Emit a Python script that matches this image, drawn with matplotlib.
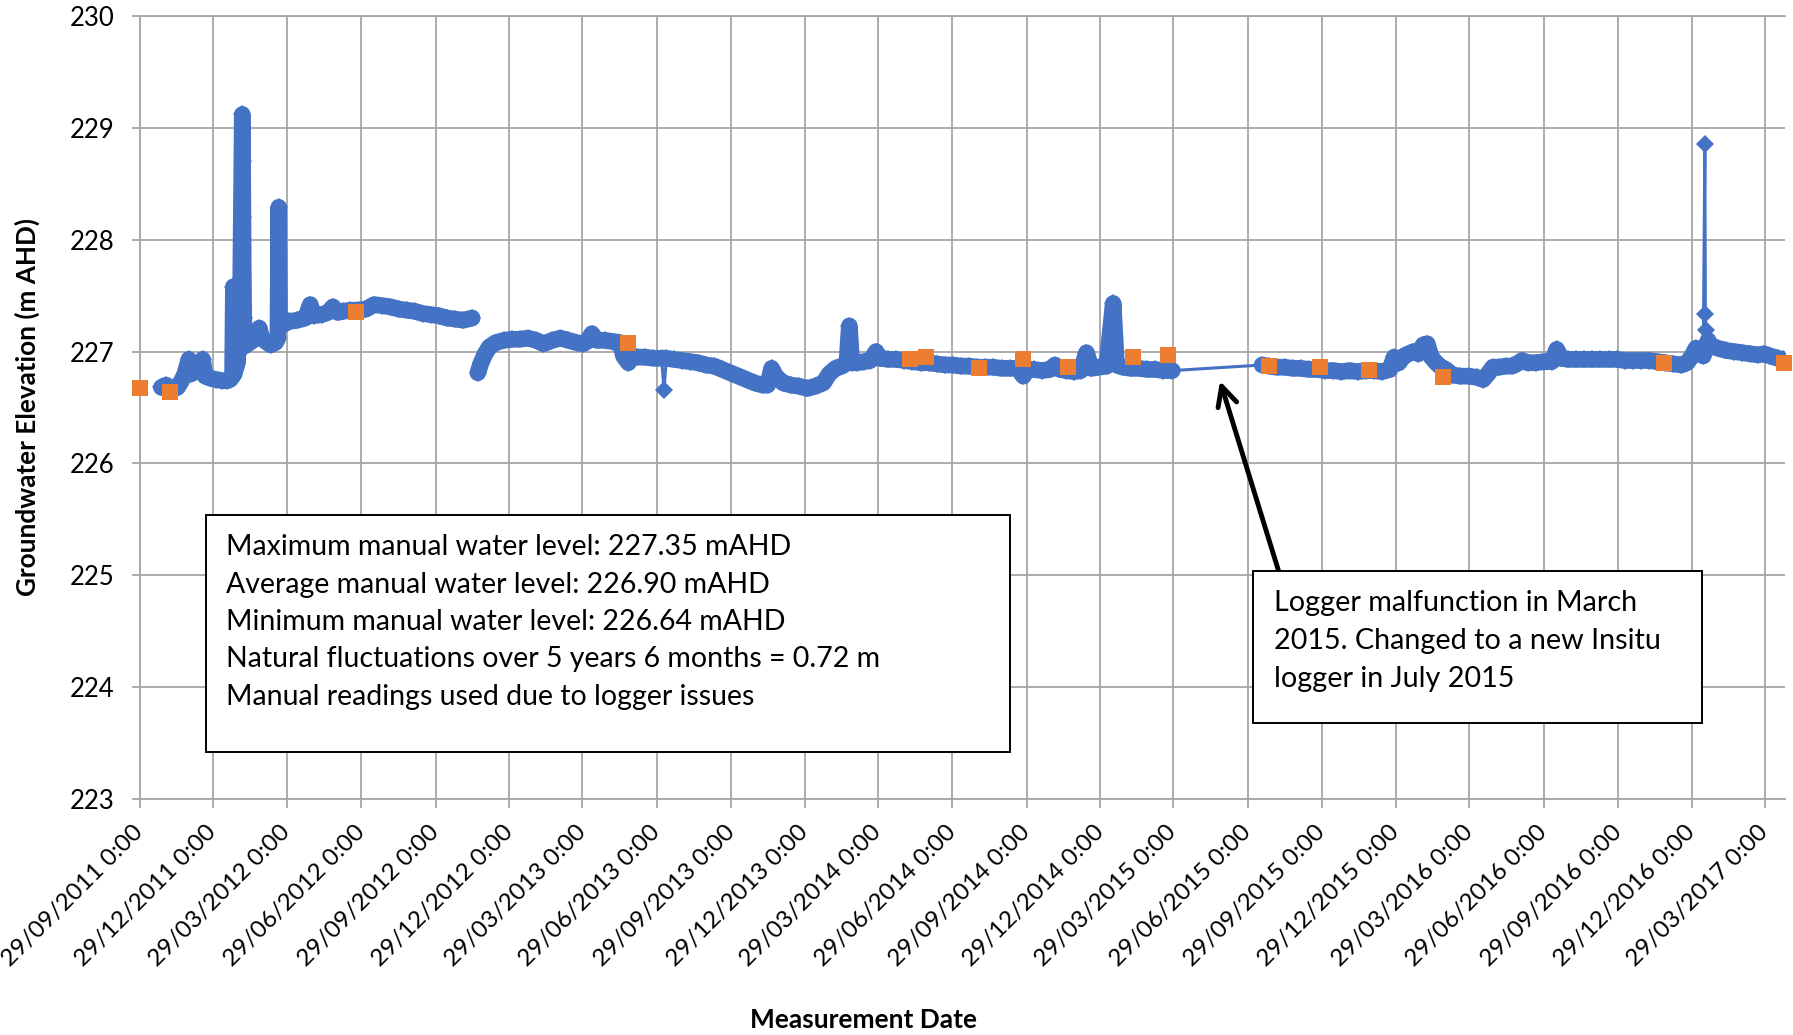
import numpy as np
import pandas as pd
import matplotlib
matplotlib.use('Agg')
import matplotlib.pyplot as plt
import matplotlib.transforms as mtransforms
from matplotlib.patches import Rectangle

plt.rcParams['font.family'] = ['Lato', 'DejaVu Sans']

start = pd.Timestamp('2011-09-29')  # first tick of the date axis

# logger readings, days after 29/09/2011 (nan = blank cell, breaks the line)
logger_day = [27, 33, 40, 47, 52, 56, 61, 64, 70, 74, 78, 81, 88, 95, 102, 108, 112,
              115, 116, 117, 118, 119, 120, 121, 122, 123, 124, 125, 127, 127.4, 127.8,
              128.2, 128.8, 130, 134, 140, 145, 148, 151, 156, 162, 168, 171, 172, 172.5,
              173, 177, 185, 195, 205, 211, 215, 225, 233, 239, 245, 252, 260, 270, 280,
              290, 300, 310, 320, 330, 340, 350, 360, 370, 380, 390, 400, 411, 414,
              418, 422, 427, 432, 440, 450, 460, 470, 480, 490, 499, 510, 520, 530, 540,
              548, 553, 559, 565, 575, 585, 594, 598, 604, 608, 615, 625, 635, 645, 651,
              660, 670, 680, 690, 700, 710, 720, 730, 740, 750, 760, 770, 776, 781, 786,
              795, 805, 815, 825, 835, 845, 852, 860, 868, 874, 877, 880, 887, 895, 903,
              910, 915, 925, 935, 945, 955, 965, 975, 985, 995, 1005, 1015, 1025, 1035,
              1045, 1055, 1065, 1075, 1085, 1092, 1097, 1105, 1115, 1125, 1131, 1137, 1145,
              1155, 1163, 1170, 1176, 1185, 1195, 1203, 1207, 1215, 1225, 1235, 1245, 1255,
              1265, 1276,
              1387, 1395, 1405, 1415, 1425, 1435, 1445, 1455, 1465, 1475, 1485, 1495, 1505,
              1515, 1525, 1535, 1545, 1550, 1556, 1562, 1568, 1574, 1580, 1586, 1591, 1596,
              1602, 1608, 1614, 1622, 1632, 1642, 1652, 1660, 1666, 1672, 1680, 1688, 1696,
              1704, 1708, 1715, 1725, 1735, 1745, 1751, 1756, 1765, 1775, 1785, 1795, 1805,
              1815, 1825, 1835, 1845, 1855, 1865, 1875, 1885, 1895, 1905, 1912, 1918, 1923,
              1928, 1932, 1938, 1941, 1950, 1960, 1970, 1980, 1990, 2000, 2007, 2015, 2024,
              2030]
logger_level = [226.68, 226.70, 226.66, 226.68, 226.74, 226.80, 226.93, 226.80, 226.84,
                226.82, 226.93, 226.78, 226.76, 226.75, 226.74, 226.74, 226.75, 226.78,
                227.58, 226.80, 227.55, 226.85, 227.50, 226.90, 227.45, 227.00, 227.40,
                227.60, 229.12, 228.70, 228.20, 227.70, 227.30, 227.05, 227.07, 227.10,
                227.14, 227.21, 227.12, 227.09, 227.06, 227.08, 227.12, 228.29, 227.70,
                227.25, 227.24, 227.27, 227.28, 227.30, 227.42, 227.32, 227.33, 227.35,
                227.40, 227.35, 227.36, 227.37, 227.37, 227.38, 227.42, 227.41, 227.40,
                227.38, 227.37, 227.36, 227.34, 227.33, 227.32, 227.30, 227.29, 227.28,
                227.30, np.nan,
                226.81, 226.90, 226.98, 227.04, 227.08, 227.10, 227.11, 227.11, 227.12,
                227.10, 227.07, 227.10, 227.12, 227.10, 227.08, 227.07, 227.09, 227.16,
                227.10, 227.10, 227.09, 227.08, 226.96, 226.90, 226.96, 226.95, 226.95,
                226.94, 226.94, 226.94, 226.93, 226.92, 226.91, 226.90, 226.88, 226.87,
                226.84, 226.81, 226.78, 226.75, 226.72, 226.70, 226.70, 226.85, 226.78,
                226.72, 226.70, 226.69, 226.67, 226.69, 226.72, 226.80, 226.85, 226.87,
                226.90, 227.23, 226.90, 226.90, 226.91, 226.92, 227.00, 226.94, 226.93,
                226.93, 226.92, 226.91, 226.90, 226.90, 226.89, 226.88, 226.88, 226.87,
                226.87, 226.86, 226.86, 226.86, 226.85, 226.85, 226.85, 226.78, 226.84,
                226.84, 226.83, 226.84, 226.88, 226.84, 226.83, 226.82, 226.83, 226.99,
                226.85, 226.86, 226.87, 227.43, 226.88, 226.86, 226.85, 226.85, 226.84,
                226.84, 226.83, 226.83,
                226.88, 226.87, 226.86, 226.86, 226.85, 226.85, 226.84, 226.84, 226.83,
                226.83, 226.82, 226.83, 226.82, 226.83, 226.83, 226.82, 226.84, 226.95,
                226.90, 226.96, 226.98, 227.00, 226.98, 227.06, 227.07, 226.95, 226.90,
                226.86, 226.84, 226.79, 226.78, 226.78, 226.77, 226.75, 226.80, 226.86,
                226.86, 226.87, 226.87, 226.90, 226.92, 226.90, 226.90, 226.91, 226.91,
                227.02, 226.94, 226.93, 226.93, 226.93, 226.93, 226.93, 226.93, 226.93,
                226.92, 226.92, 226.92, 226.92, 226.91, 226.90, 226.89, 226.88, 226.90,
                226.96, 227.03, 226.98, 226.96, 227.10, 227.05, 227.03, 227.01, 227.00,
                226.99, 226.98, 226.97, 226.98, 226.96, 226.94, 226.93]

# single odd logger readings (drawn with the thin line only)
spike_day = [648, 1934, 1934.6, 1935.2]
spike_level = [226.66, 228.86, 227.34, 227.19]

# manual dip readings
manual_day = [0, 38, 267, 604, 952, 972, 1037, 1092, 1147, 1227, 1271, 1396, 1458,
              1519, 1610, 1884, 2032]
manual_level = [226.67, 226.64, 227.35, 227.08, 226.93, 226.95, 226.85, 226.93, 226.86,
                226.955, 226.965, 226.875, 226.86, 226.835, 226.77, 226.895, 226.895]

tick_dates = pd.date_range('2011-09-29', '2017-03-29', freq=pd.DateOffset(months=3))
tick_labels = [d.strftime('%d/%m/%Y') + ' 0:00' for d in tick_dates]
y_ticks = [223, 224, 225, 226, 227, 228, 229, 230]

note_lines = ['Maximum manual water level: 227.35 mAHD',
              'Average manual water level: 226.90 mAHD',
              'Minimum manual water level: 226.64 mAHD',
              'Natural fluctuations over 5 years 6 months = 0.72 m',
              'Manual readings used due to logger issues']
logger_note = ['Logger malfunction in March',
               '2015. Changed to a new Insitu',
               'logger in July 2015']

blue = '#4472C4'
orange = '#ED7D31'
grid_col = '#A6A6A6'
W, H = 1793, 1035


def to_dates(days):
    return start + pd.to_timedelta(np.asarray(days, dtype=float), unit='D')


# full series for the thin line + diamonds
all_day = np.concatenate([logger_day, spike_day])
all_level = np.concatenate([logger_level, spike_level])
order = np.argsort(all_day, kind='stable')
all_day = all_day[order]
all_level = all_level[order]

# thick band: logger only, broken where the logger had a long gap
band_day = []
band_level = []
for i in range(len(logger_day)):
    if i > 0 and logger_day[i] - logger_day[i - 1] > 60:
        band_day.append(logger_day[i] - 1)
        band_level.append(np.nan)
    band_day.append(logger_day[i])
    band_level.append(logger_level[i])

fig = plt.figure(figsize=(W / 100, H / 100), dpi=100)
ax = fig.add_axes([139.5 / W, 1 - 799 / H, (1785 - 139.5) / W, (799 - 16) / H])

ax.plot(to_dates(band_day), band_level, color=blue, lw=12,
        solid_joinstyle='round', solid_capstyle='round', zorder=2)
ax.plot(to_dates(all_day), all_level, color=blue, lw=2.2, zorder=3)
ax.plot(to_dates(all_day), all_level, ls='none', marker='D', ms=9, mew=0,
        color=blue, zorder=3)
ax.plot(to_dates(manual_day), manual_level, ls='none', marker='s', ms=11.5, mew=0,
        color=orange, zorder=4, clip_on=False)

ax.set_xlim(start, start + pd.Timedelta(days=2033))
ax.set_ylim(223, 230)
ax.set_xticks(tick_dates)
ax.set_xticklabels(tick_labels, rotation=45, ha='right', va='center',
                   rotation_mode='anchor', fontsize=17.5)
shift = mtransforms.ScaledTranslation(7 / 100, 0, fig.dpi_scale_trans)
for lab in ax.get_xticklabels():
    lab.set_transform(lab.get_transform() + shift)
ax.set_yticks(y_ticks)
ax.set_yticklabels([str(v) for v in y_ticks], fontsize=18.5)
ax.tick_params(axis='x', length=6.5, width=1.3, color=grid_col, pad=15)
ax.tick_params(axis='y', length=6, width=1.3, color=grid_col, pad=12)

ax.set_axisbelow(True)
ax.grid(True, color=grid_col, lw=1.3)
for side in ['left', 'top', 'bottom']:
    ax.spines[side].set_color(grid_col)
    ax.spines[side].set_linewidth(1.3)
ax.spines['right'].set_visible(False)

fig.text(27 / W, 1 - 407.5 / H, 'Groundwater Elevation (m AHD)', rotation=90,
         ha='center', va='center', fontsize=18.8, fontweight='bold')
fig.text(864 / W, 7 / H, 'Measurement Date', ha='center', va='baseline',
         fontsize=19, fontweight='bold')

# text boxes
fig.patches.append(Rectangle((205.5 / W, 1 - 752.3 / H), (1009.5 - 205.5) / W,
                             (752.3 - 515) / H, transform=fig.transFigure,
                             facecolor='white', edgecolor='black', lw=1.4, zorder=5))
for i, line in enumerate(note_lines):
    fig.text(226.5 / W, 1 - (555 + 37.5 * i) / H, line, fontsize=20.5,
             va='baseline', zorder=6)

fig.patches.append(Rectangle((1252.5 / W, 1 - 722.5 / H), (1702 - 1252.5) / W,
                             (722.5 - 570.7) / H, transform=fig.transFigure,
                             facecolor='white', edgecolor='black', lw=1.4, zorder=5))
for i, line in enumerate(logger_note):
    fig.text(1274.5 / W, 1 - (610.5 + 38 * i) / H, line, fontsize=20.7,
             va='baseline', zorder=6)

ax.annotate('', xy=(1220, H - 381), xytext=(1278.5, H - 570.7),
            xycoords='figure pixels', textcoords='figure pixels',
            arrowprops=dict(arrowstyle='->,head_length=0.7,head_width=0.35',
                            lw=3.5, color='black', mutation_scale=20,
                            shrinkA=0, shrinkB=0))

fig.savefig('out.png', dpi=100)
